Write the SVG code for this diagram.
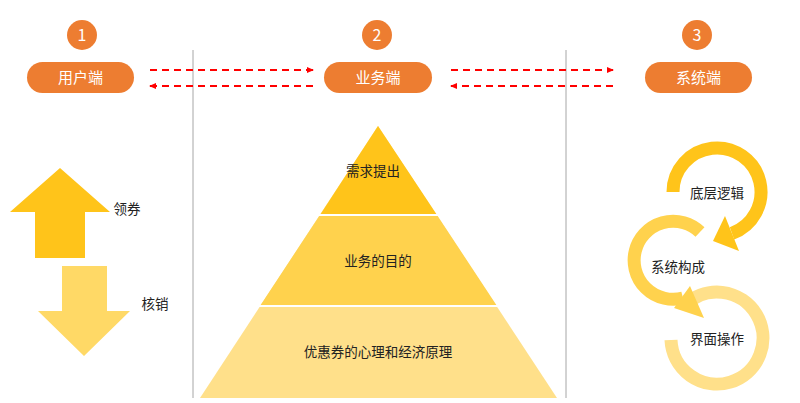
<svg xmlns="http://www.w3.org/2000/svg" width="800" height="403" viewBox="0 0 800 403">
<style>
text{font-family:"Noto Sans CJK SC","Liberation Sans",sans-serif;}
.num{fill:#ED7D31}.numt{fill:#fff;font-size:16px;text-anchor:middle}
.pill{fill:#ED7D31}.pillt{fill:#fff;font-size:15px;text-anchor:middle}
.lbl{fill:#222;font-size:13.5px;text-anchor:middle}
.dash{stroke:#FF0000;stroke-width:2;stroke-dasharray:7,5;fill:none}
.vl{stroke:#A6A6A6;stroke-width:1}
.ring{fill:none;stroke-width:13}
</style>
<defs>
<marker id="ah" markerWidth="8" markerHeight="8" refX="6" refY="4" orient="auto" markerUnits="userSpaceOnUse"><path d="M0,1 L7,4 L0,7 Z" fill="#FF0000"/></marker>
</defs>
<rect width="800" height="403" fill="#fff"/>
<line class="vl" x1="193" y1="50" x2="193" y2="398"/>
<line class="vl" x1="566" y1="50" x2="566" y2="398"/>
<g id="n1"><circle class="num" cx="82" cy="35" r="15"/><text class="numt" x="82" y="41">1</text>
<rect class="pill" x="27" y="62" width="107" height="31" rx="15.5"/><text class="pillt" x="80.5" y="83">用户端</text></g>
<g id="n2"><circle class="num" cx="377" cy="35" r="15"/><text class="numt" x="377" y="41">2</text>
<rect class="pill" x="324" y="62" width="108" height="31" rx="15.5"/><text class="pillt" x="378" y="83">业务端</text></g>
<g id="n3"><circle class="num" cx="697" cy="35" r="15"/><text class="numt" x="697" y="41">3</text>
<rect class="pill" x="645" y="62" width="107" height="31" rx="15.5"/><text class="pillt" x="698.5" y="83">系统端</text></g>
<g id="connectors">
<line class="dash" x1="150" y1="70" x2="313" y2="70" marker-end="url(#ah)"/>
<line class="dash" x1="313" y1="86" x2="150" y2="86" marker-end="url(#ah)"/>
<line class="dash" x1="451" y1="70" x2="613" y2="70" marker-end="url(#ah)"/>
<line class="dash" x1="613" y1="86" x2="451" y2="86" marker-end="url(#ah)"/>
</g>
<g id="pyramid">
<polygon points="378,126 200,398 557,398" fill="#FFE08A"/>
<polygon points="378,126 320,215 437,215" fill="#FFC41A"/>
<polygon points="320,215 437,215 497,306 260,306" fill="#FFD24D"/>
<line x1="315" y1="215" x2="442" y2="215" stroke="#fff" stroke-width="2"/>
<line x1="255" y1="306" x2="502" y2="306" stroke="#fff" stroke-width="2"/>
<text class="lbl" x="373" y="176">需求提出</text>
<text class="lbl" x="378" y="266">业务的目的</text>
<text class="lbl" x="378" y="357">优惠券的心理和经济原理</text>
</g>
<g id="up"><polygon points="10,212 60,168 110,212 85,212 85,258 35,258 35,212" fill="#FFC41A"/><text class="lbl" x="127" y="214">领券</text></g>
<g id="down"><polygon points="62,266 107,266 107,311 130,311 84,356 38,311 62,311" fill="#FFD966"/><text class="lbl" x="155" y="309">核销</text></g>
<g id="c3"><path class="ring" stroke="#FFE08A" d="M684,306 A46,46 0 1 1 671,340"/><text class="lbl" x="717" y="344">界面操作</text></g>
<g id="c2"><path class="ring" stroke="#FFD24D" d="M700,232 A39,39 0 1 0 683,298"/>
<polygon points="674,308 690,286 704,318" fill="#FFD24D"/><text class="lbl" x="678" y="272">系统构成</text></g>
<g id="c1"><path class="ring" stroke="#FFC41A" d="M673,192 A44,44 0 1 1 732,233.3"/>
<polygon points="725,216 739,251 713,241" fill="#FFC41A"/><text class="lbl" x="717" y="198">底层逻辑</text></g>
</svg>
